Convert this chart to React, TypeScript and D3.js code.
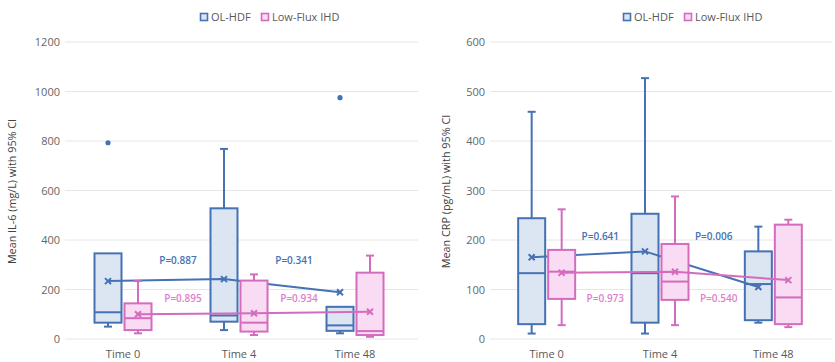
import React from 'react';
import * as d3 from 'd3';

// categories + series
const categories = ['Time 0', 'Time 4', 'Time 48'];
const seriesNames = ['OL-HDF', 'Low-Flux IHD'];

// box stats
const il6Hdf = [
  { low: 50, q1: 66, median: 108, q3: 346, high: 346, mean: 234, outliers: [793] },
  { low: 36, q1: 70, median: 95, q3: 528, high: 768, mean: 242, outliers: [] },
  { low: 23, q1: 33, median: 55, q3: 130, high: 130, mean: 189, outliers: [975] },
];
const il6Low = [
  { low: 23, q1: 36, median: 84, q3: 144, high: 234, mean: 100, outliers: [] },
  { low: 16, q1: 30, median: 66, q3: 236, high: 261, mean: 104, outliers: [] },
  { low: 9, q1: 16, median: 32, q3: 268, high: 337, mean: 110, outliers: [] },
];
const crpHdf = [
  { low: 11, q1: 30, median: 133, q3: 244, high: 459, mean: 165, outliers: [] },
  { low: 11, q1: 33, median: 133, q3: 253, high: 527, mean: 177, outliers: [] },
  { low: 33, q1: 38, median: 111, q3: 177, high: 227, mean: 105, outliers: [] },
];
const crpLow = [
  { low: 28, q1: 81, median: 136, q3: 180, high: 262, mean: 134, outliers: [] },
  { low: 28, q1: 79, median: 116, q3: 192, high: 288, mean: 136, outliers: [] },
  { low: 24, q1: 30, median: 84, q3: 231, high: 241, mean: 119, outliers: [] },
];

// p-value labels (between time points) and the y value they sit at
const il6PHdf = ['P=0.887', 'P=0.341'];
const il6PLow = ['P=0.895', 'P=0.934'];
const il6PY = [319, 166];
const crpPHdf = ['P=0.641', 'P=0.006'];
const crpPLow = ['P=0.973', 'P=0.540'];
const crpPY = [208, 83];

const il6Ticks = [0, 200, 400, 600, 800, 1000, 1200];
const crpTicks = [0, 100, 200, 300, 400, 500, 600];

const BLUE = '#4571B5';
const BLUE_FILL = '#DCE6F2';
const PINK = '#D46CBE';
const PINK_FILL = '#F9DCF3';
const PINK_TEXT = '#DC7FCB';
const FONT = '"Open Sans", "Noto Sans", sans-serif';

type Box = { low: number; q1: number; median: number; q3: number; high: number; mean: number; outliers: number[] };

function Panel(props: any) {
  const { left, right, top, bottom, ticks, hdf, low, pHdf, pLow, pY, title, legendX, titleX, gridEnd } = props;

  const x = d3.scaleBand().domain(categories).range([left, right]).padding(0);
  const sub = d3.scaleBand().domain(seriesNames).range([-28.5, 28.5]).paddingInner(0.1);
  const y = d3.scaleLinear().domain([0, d3.max(ticks) as number]).range([bottom, top]);
  const bw = sub.bandwidth();
  const cx = (c: string) => (x(c) as number) + x.bandwidth() / 2;

  const drawBoxes = (data: Box[], name: string, stroke: string, fill: string) =>
    data.map((d, i) => {
      const c = categories[i];
      const x0 = cx(c) + (sub(name) as number);
      const xm = x0 + bw / 2;
      return (
        <g key={name + i}>
          <line x1={xm} x2={xm} y1={y(d.high)} y2={y(d.q3)} stroke={stroke} strokeWidth={2} />
          <line x1={xm} x2={xm} y1={y(d.q1)} y2={y(d.low)} stroke={stroke} strokeWidth={2} />
          {d.high > d.q3 && <line x1={xm - 4} x2={xm + 4} y1={y(d.high)} y2={y(d.high)} stroke={stroke} strokeWidth={2} />}
          <line x1={xm - 4} x2={xm + 4} y1={y(d.low)} y2={y(d.low)} stroke={stroke} strokeWidth={2} />
          <rect x={x0} y={y(d.q3)} width={bw} height={y(d.q1) - y(d.q3)} fill={fill} stroke={stroke} strokeWidth={2} />
          <line x1={x0} x2={x0 + bw} y1={y(d.median)} y2={y(d.median)} stroke={stroke} strokeWidth={2} />
          {d.outliers.map((o, j) => (
            <circle key={j} cx={xm} cy={y(o)} r={2.6} fill={stroke} />
          ))}
        </g>
      );
    });

  const drawMeans = (data: Box[], name: string, stroke: string) => {
    const pts: [number, number][] = data.map((d, i) => [cx(categories[i]) + (sub(name) as number) + bw / 2, y(d.mean)]);
    const line = d3.line();
    return (
      <g>
        <path d={line(pts) as string} fill="none" stroke={stroke} strokeWidth={2} />
        {pts.map((p, i) => (
          <path key={i} d={`M${p[0] - 3},${p[1] - 3}L${p[0] + 3},${p[1] + 3}M${p[0] - 3},${p[1] + 3}L${p[0] + 3},${p[1] - 3}`} stroke={stroke} strokeWidth={2} />
        ))}
      </g>
    );
  };

  const mids = [0, 1].map((i) => (cx(categories[i]) + cx(categories[i + 1])) / 2);

  return (
    <g fontFamily={FONT}>
      {/* legend */}
      <g transform={`translate(${legendX},17)`}>
        <rect x={0.5} y={-3.5} width={7} height={7} fill={BLUE_FILL} stroke={BLUE} strokeWidth={1.6} />
        <text x={11} y={4} fontSize={11} fill="#595959">{seriesNames[0]}</text>
        <rect x={61.5} y={-3.5} width={7} height={7} fill={PINK_FILL} stroke={PINK} strokeWidth={1.6} />
        <text x={72} y={4} fontSize={11} fill="#595959">{seriesNames[1]}</text>
      </g>
      {/* grid + y ticks */}
      {ticks.map((t: number) => (
        <g key={t}>
          <line x1={left} x2={gridEnd} y1={y(t)} y2={y(t)} stroke="#E6E6E6" strokeWidth={1} />
          <text x={left - 5} y={y(t) + 4} fontSize={11} fill="#666" textAnchor="end">{t}</text>
        </g>
      ))}
      {/* x labels */}
      {categories.map((c) => (
        <text key={c} x={cx(c)} y={bottom + 19} fontSize={11} fill="#595959" textAnchor="middle">{c}</text>
      ))}
      <text transform={`translate(${titleX},${(top + bottom) / 2 + 1}) rotate(-90)`} fontSize={10.8} fill="#404040" textAnchor="middle">{title}</text>

      {drawBoxes(hdf, seriesNames[0], BLUE, BLUE_FILL)}
      {drawMeans(hdf, seriesNames[0], BLUE)}
      {drawBoxes(low, seriesNames[1], PINK, PINK_FILL)}
      {drawMeans(low, seriesNames[1], PINK)}

      {mids.map((m, i) => (
        <g key={i} fontSize={10} fontWeight={600}>
          <text x={m - 3} y={y(pY[0]) + 4} fill={BLUE} textAnchor="middle">{pHdf[i]}</text>
          <text x={m + 2} y={y(pY[1]) + 4} fill={PINK_TEXT} textAnchor="middle">{pLow[i]}</text>
        </g>
      ))}
    </g>
  );
}

export default function App() {
  return (
    <svg width={835} height={362} style={{ position: 'absolute', left: 0, top: 0, background: '#fff' }}>
      <rect width={835} height={362} fill="#fff" />
      <Panel
        left={65} right={413} top={42} bottom={339} gridEnd={418}
        ticks={il6Ticks} hdf={il6Hdf} low={il6Low}
        pHdf={il6PHdf} pLow={il6PLow} pY={il6PY}
        title="Mean IL-6 (mg/L) with 95% CI" titleX={16} legendX={200}
      />
      <Panel
        left={490} right={830} top={42} bottom={339} gridEnd={832}
        ticks={crpTicks} hdf={crpHdf} low={crpLow}
        pHdf={crpPHdf} pLow={crpPLow} pY={crpPY}
        title="Mean CRP (pg/mL) with 95% CI" titleX={450} legendX={623}
      />
    </svg>
  );
}
